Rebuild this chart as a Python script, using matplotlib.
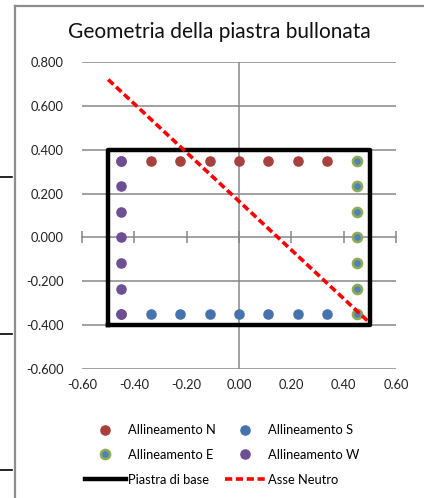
import matplotlib
matplotlib.use("Agg")
import matplotlib.pyplot as plt
from matplotlib.lines import Line2D
import numpy as np

plt.rcParams['font.family'] = ['Lato', 'DejaVu Sans']

# bolt positions (m)
row_x = [-0.45, -0.3375, -0.225, -0.1125, 0.0, 0.1125, 0.225, 0.3375, 0.45]
col_y = [0.35, 0.2333, 0.1167, 0.0, -0.1167, -0.2333, -0.35]

n_x, n_y = row_x, [0.35] * len(row_x)
s_x, s_y = row_x, [-0.35] * len(row_x)
e_x, e_y = [0.45] * len(col_y), col_y
w_x, w_y = [-0.45] * len(col_y), col_y

# base plate outline and neutral axis
plate_x = [-0.5, 0.5, 0.5, -0.5, -0.5]
plate_y = [-0.4, -0.4, 0.4, 0.4, -0.4]
neutral_x = [-0.5, 0.5]
neutral_y = [0.72, -0.39]

xticks = [-0.6, -0.4, -0.2, 0.0, 0.2, 0.4, 0.6]
yticks = [0.8, 0.6, 0.4, 0.2, 0.0, -0.2, -0.4, -0.6]

grey = '#878787'
W, H = 424, 498

fig = plt.figure(figsize=(W / 100, H / 100), dpi=100)

# chart frame (spreadsheet border) and stray cell lines on the left
fig.add_artist(Line2D([15 / W, 15 / W], [0, 1 - 6 / H], color='#8c8c8c', lw=1.6))
fig.add_artist(Line2D([15 / W, 1], [1 - 6 / H, 1 - 6 / H], color='#8c8c8c', lw=1.6))
for yy in [177, 334, 470]:
    fig.add_artist(Line2D([0, 12 / W], [1 - yy / H] * 2, color='black', lw=1.2))

ax = fig.add_axes([82 / W, 1 - 369 / H, (396 - 82) / W, (369 - 62) / H])
ax.set_xlim(-0.6, 0.6)
ax.set_ylim(-0.6, 0.8)
for sp in ax.spines.values():
    sp.set_visible(False)

for yv in yticks:
    if yv != 0:
        ax.axhline(yv, color=grey, lw=1.1, zorder=0)
ax.axvline(0, color=grey, lw=1.1, zorder=0)

ax.set_xticks(xticks)
ax.set_xticklabels([f"{v:.2f}" for v in xticks])
ax.set_yticks(yticks)
ax.set_yticklabels([f"{v:.3f}" for v in yticks])
ax.tick_params(axis='both', length=0, labelsize=9.3, colors='#222222')
ax.tick_params(axis='x', pad=7)
ax.tick_params(axis='y', pad=13)

# x axis crossing at y = 0 with tick marks
sec = ax.secondary_xaxis(0.6 / 1.4)
sec.set_xticks(xticks)
sec.tick_params(direction='inout', length=9, width=1.1, color=grey, labelbottom=False)
sec.spines['bottom'].set_color(grey)
sec.spines['bottom'].set_linewidth(1.1)

ms = 6.6
ax.plot(plate_x, plate_y, color='black', lw=3.2, zorder=2, label='Piastra di base')
ax.plot(n_x, n_y, 'o', ms=ms, color='#a5403d', mec='#a5403d', zorder=3, label='Allineamento N')
ax.plot(s_x, s_y, 'o', ms=ms, color='#4672ae', mec='#4672ae', zorder=3, label='Allineamento S')
ax.plot(e_x, e_y, 'o', ms=ms, color='#4f81bd', mec='#8fac52', mew=1.8, zorder=4, label='Allineamento E')
ax.plot(w_x, w_y, 'o', ms=ms, color='#6e4f94', mec='#6e4f94', zorder=5, label='Allineamento W')
ax.plot(neutral_x, neutral_y, color='#ff0000', lw=2.6, ls=(0, (2.0, 1.0)), zorder=6, label='Asse Neutro')

fig.text(219 / W, 1 - 32 / H, 'Geometria della piastra bullonata', ha='center', va='center',
         fontsize=15, color='#111111')

h, l = ax.get_legend_handles_labels()
# legend fills column by column: N, E, plate | S, W, neutral
order = [1, 3, 0, 2, 4, 5]
leg = fig.legend([h[i] for i in order], [l[i] for i in order], ncol=2,
                 loc='center', bbox_to_anchor=(222 / W, 1 - 455 / H), frameon=False,
                 fontsize=9.3, handlelength=3.2, handletextpad=0.15, columnspacing=0.7,
                 labelspacing=1.0)

fig.savefig('out.png', dpi=100)
